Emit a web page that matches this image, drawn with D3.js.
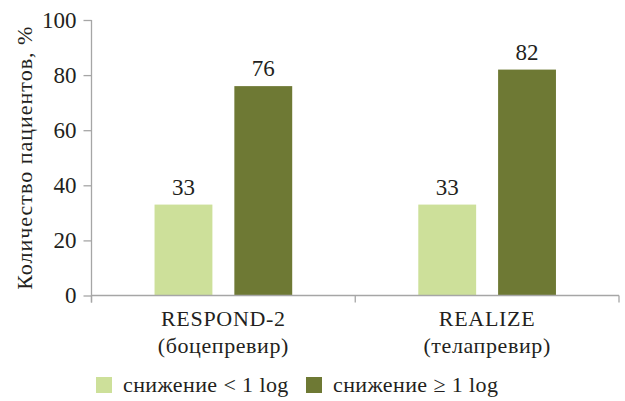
<!DOCTYPE html>
<html><head><meta charset="utf-8">
<script src="https://cdn.jsdelivr.net/npm/d3@7"></script>
<style>body{margin:0;background:#fff}svg{display:block}svg text{font-family:"Liberation Serif",serif !important;fill:#231f20}</style>
</head><body>
<svg id="c" width="625" height="401"></svg>
<script>
const categories = ["RESPOND-2", "REALIZE"];
const subLabels = ["(боцепревир)", "(телапревир)"];
const seriesNames = ["снижение < 1 log", "снижение ≥ 1 log"];
const lowValues = [33, 33];
const highValues = [76, 82];
const yTicks = [0, 20, 40, 60, 80, 100];
const colors = ["#cde09a", "#6e7934"];

const svg = d3.select("#c");
const fs = 22;
const fsNum = 23;
const x0 = d3.scaleBand().domain(categories).range([91.5, 619]).paddingInner(0).paddingOuter(0);
const x1 = d3.scaleBand().domain([0, 1]).range([0, x0.bandwidth()]).paddingInner(0.275).paddingOuter(0.79);
const y = d3.scaleLinear().domain([0, 100]).range([295.5, 20]);
const axisColor = "#a6a6a6";

// y axis
const ya = svg.append("g").attr("transform", "translate(91.5,0)")
  .call(d3.axisLeft(y).tickValues(yTicks).tickSize(8).tickPadding(7));
ya.select(".domain").remove();
ya.selectAll(".tick line").attr("stroke", axisColor).attr("stroke-width", 1.3);
ya.selectAll(".tick text").attr("font-size", fsNum).attr("fill", "#231f20");
ya.append("line").attr("x1", 0).attr("x2", 0).attr("y1", y(100)).attr("y2", y(0) + 7)
  .attr("stroke", axisColor).attr("stroke-width", 1.3);

// bars
const data = categories.map((c, i) => ({cat: c, vals: [lowValues[i], highValues[i]]}));
const g = svg.append("g");
data.forEach(d => {
  d.vals.forEach((v, j) => {
    const bx = x0(d.cat) + x1(j);
    g.append("rect").attr("x", bx).attr("y", y(v)).attr("width", x1.bandwidth())
      .attr("height", y(0) - y(v)).attr("fill", colors[j]);
    g.append("text").attr("x", bx + x1.bandwidth() / 2).attr("y", y(v) - 10)
      .attr("text-anchor", "middle").attr("font-size", fsNum).text(v);
  });
});

// x axis
const xa = svg.append("g");
xa.append("line").attr("x1", 91.5).attr("x2", 619).attr("y1", y(0)).attr("y2", y(0))
  .attr("stroke", axisColor).attr("stroke-width", 1.3);
const bounds = [x0.range()[0]].concat(categories.map(c => x0(c) + x0.bandwidth()));
bounds.forEach(b => xa.append("line").attr("x1", b).attr("x2", b).attr("y1", y(0)).attr("y2", y(0) + 7)
  .attr("stroke", axisColor).attr("stroke-width", 1.3));
categories.forEach((c, i) => {
  const cx = x0(c) + x0.bandwidth() / 2;
  xa.append("text").attr("x", cx).attr("y", 326).attr("text-anchor", "middle").attr("font-size", fs)
    .attr("letter-spacing", 0.7).text(c);
  xa.append("text").attr("x", cx).attr("y", 353).attr("text-anchor", "middle").attr("font-size", fs)
    .attr("letter-spacing", 0.6).text(subLabels[i]);
});

// y title
svg.append("text").attr("transform", `translate(32,${(y(0) + y(100)) / 2}) rotate(-90)`)
  .attr("text-anchor", "middle").attr("font-size", fs).attr("letter-spacing", 1).text("Количество пациентов, %");

// legend
const legX = [96, 306];
seriesNames.forEach((s, j) => {
  svg.append("rect").attr("x", legX[j]).attr("y", 377).attr("width", 16).attr("height", 16).attr("fill", colors[j]);
  svg.append("text").attr("x", legX[j] + 27).attr("y", 392).attr("font-size", fs).attr("letter-spacing", 0.4).text(s);
});
</script>
</body></html>
